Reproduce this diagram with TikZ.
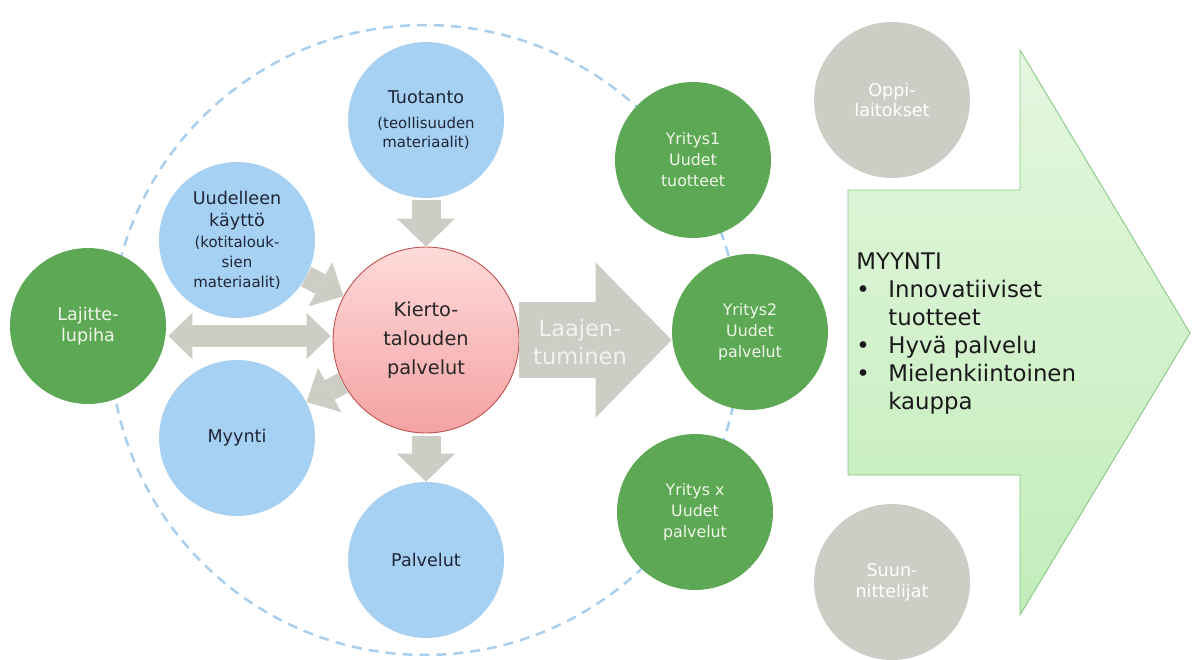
\documentclass[tikz,border=0pt]{standalone}
\usepackage{fontspec}
\setmainfont{DejaVu Sans}
\usetikzlibrary{arrows.meta}

\definecolor{skyblue}{HTML}{A7D1F3}
\definecolor{leafgreen}{HTML}{5DA854}
\definecolor{stonegrey}{HTML}{CDCDC5}
\definecolor{arrowgrey}{HTML}{CDCDC5}
\definecolor{dashblue}{HTML}{A9CFEE}
\definecolor{inktext}{HTML}{1E2637}
\definecolor{paletext}{HTML}{EEF6E8}
\definecolor{pinktop}{HTML}{FFDADA}
\definecolor{pinkbottom}{HTML}{F4A2A2}
\definecolor{pinkedge}{HTML}{C0504D}
\definecolor{mintlight}{HTML}{E4F7DF}
\definecolor{mintdark}{HTML}{C2ECBA}
\definecolor{mintedge}{HTML}{86C784}

\newcommand{\smalltxt}[1]{{\fontsize{8.5}{10.5}\selectfont #1}}

\tikzstyle{bubble} = [circle, minimum size=3.12cm, inner sep=0pt, align=center, font=\fontsize{10}{11.8}\selectfont]
\tikzstyle{bluebubble} = [bubble, fill=skyblue, text=inktext, font=\fontsize{10}{12.8}\selectfont]
\tikzstyle{greenbubble} = [bubble, fill=leafgreen, text=paletext]
\tikzstyle{firmbubble} = [greenbubble, font=\fontsize{9}{12}\selectfont]
\tikzstyle{greybubble} = [bubble, fill=stonegrey, text=white]
\tikzstyle{hub} = [circle, minimum size=3.72cm, inner sep=0pt, align=center, draw=pinkedge, line width=0.5pt, top color=pinktop, bottom color=pinkbottom, text=black!85, font=\fontsize{11}{16.5}\selectfont]
\tikzstyle{vertarrow} = [draw=arrowgrey, line width=0.58cm, -{Triangle[length=0.56cm, width=1.16cm, line width=0pt]}]
\tikzstyle{diagarrow} = [draw=arrowgrey, line width=0.44cm, -{Triangle[length=0.52cm, width=1.0cm, line width=0pt]}]
\tikzstyle{dblarrow} = [draw=arrowgrey, line width=0.44cm, {Triangle[length=0.48cm, width=0.92cm, line width=0pt]}-{Triangle[length=0.48cm, width=0.92cm, line width=0pt]}]
\tikzstyle{bigarrow} = [draw=arrowgrey, line width=1.52cm, -{Triangle[length=1.52cm, width=3.1cm, line width=0pt]}]

\begin{document}
\begin{tikzpicture}[x=0.02cm, y=-0.02cm]
		\useasboundingbox (0,0) rectangle (1192,659);
		% Background shapes
		\draw [dashblue, line width=0.05cm, dash pattern=on 0.2cm off 0.14cm] (425,340) circle [radius=6.3cm];
		\path [draw=mintedge, line width=0.5pt, top color=mintlight, bottom color=mintdark] (848,190) -- (1020,190) -- (1020,50) -- (1190,333) -- (1020,615) -- (1020,475) -- (848,475) -- cycle;
		% Nodes
		\node (kierto) [hub] at (426,340) {Kierto-\\talouden\\palvelut};
		\node (tuotanto) [bluebubble] at (426,120) {Tuotanto\\[1pt] \smalltxt{(teollisuuden}\\[-2pt] \smalltxt{materiaalit)}};
		\node (uudelleen) [bluebubble] at (237,240) {Uudelleen\\käyttö\\[-1pt] \smalltxt{(kotitalouk-}\\[-1.5pt] \smalltxt{sien}\\[-1.5pt] \smalltxt{materiaalit)}};
		\node (myynti) [bluebubble] at (237,438) {Myynti};
		\node (palvelut) [bluebubble] at (426,560) {Palvelut};
		\node (lajittelu) [greenbubble] at (88,326) {Lajitte-\\lupiha};
		\node (yritys1) [firmbubble] at (693,160) {Yritys1\\Uudet\\tuotteet};
		\node (yritys2) [firmbubble] at (750,332) {Yritys2\\Uudet\\palvelut};
		\node (yritysx) [firmbubble] at (695,512) {Yritys x\\Uudet\\palvelut};
		\node (oppilaitokset) [greybubble] at (892,100) {Oppi-\\laitokset};
		\node (suunnittelijat) [greybubble] at (892,582) {Suun-\\nittelijat};
		\coordinate (midline) at (250,336);
		% Arrows
		\draw [vertarrow, shorten <=0.04cm] (tuotanto) -- (kierto);
		\draw [vertarrow, shorten <=0.06cm] (kierto) -- (palvelut);
		\draw [diagarrow] (uudelleen) -- (kierto);
		\draw [diagarrow] (kierto) -- (myynti);
		\draw [dblarrow, shorten <=0.04cm, shorten >=0.04cm] (lajittelu.east |- midline) -- (kierto.west |- midline);
		\draw [bigarrow] (kierto.east) -- (kierto.east -| yritys2.west);
		\node (laajennus) [text=white!95!black, align=center, font=\fontsize{12.8}{16}\selectfont] at (580,342) {Laajen-\\tuminen};
		% Sales text
		\node (myyntilista) [anchor=west, inner sep=0pt, text=black!90, font=\fontsize{13}{16}\selectfont] at (856,334) {\begin{tabular}{@{}p{0.64cm}@{}l@{}}
			\multicolumn{2}{@{}l}{MYYNTI}\\
			\textbullet & Innovatiiviset\\
			 & tuotteet\\
			\textbullet & Hyvä palvelu\\
			\textbullet & Mielenkiintoinen\\
			 & kauppa
		\end{tabular}};
	\end{tikzpicture}
\end{document}
